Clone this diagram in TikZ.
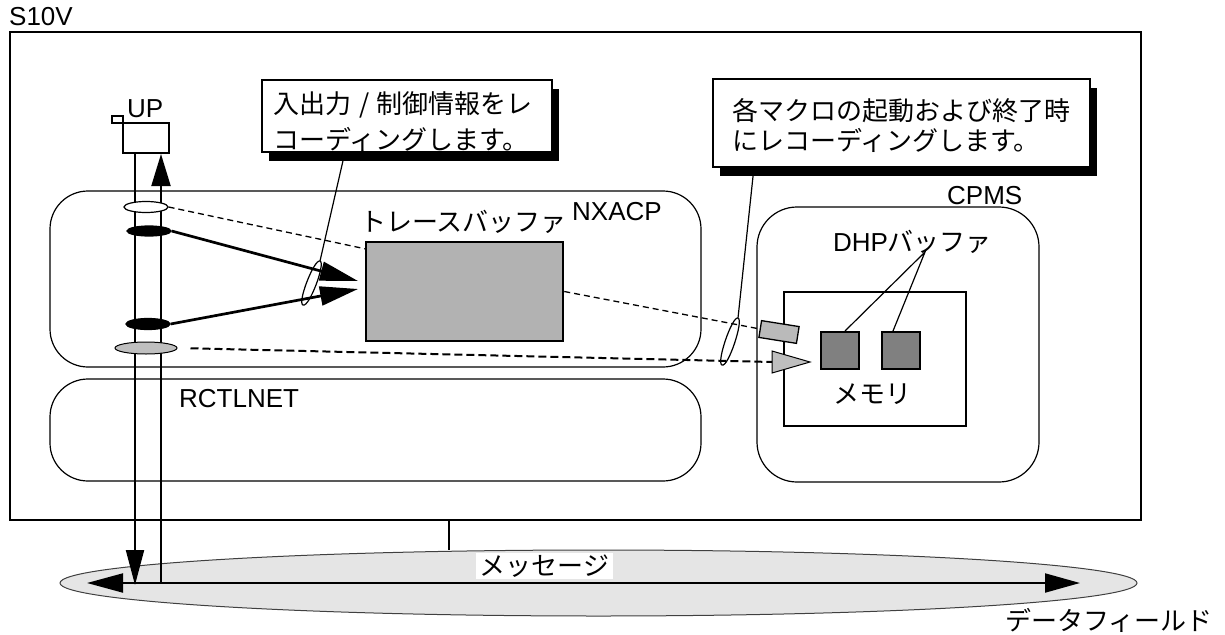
\documentclass[tikz,border=0pt]{standalone}
\usepackage{fontspec}
\setmainfont{Liberation Sans}
\newfontfamily\jp{Noto Sans CJK JP}
\usetikzlibrary{arrows.meta,shadows,calc,shapes.geometric}
\begin{document}
\begin{tikzpicture}[x=1pt,y=-1pt,
  every node/.style={inner sep=0pt, font=\fontsize{26}{30}\selectfont},
  lbl/.style={anchor=base west},
  jlbl/.style={font=\jp\fontsize{26}{30}\selectfont},
  rbox/.style={draw, line width=1.2pt, rounded corners=38pt},
  callout/.style={draw, line width=2.5pt, fill=white,
    drop shadow={shadow xshift=7pt, shadow yshift=-9pt, opacity=1, fill=black}},
  thindash/.style={line width=1.3pt, dash pattern=on 6pt off 4pt},
  thickdash/.style={line width=2pt, dash pattern=on 8pt off 4pt},
  pointer/.style={line width=1.2pt},
  chan/.style={line width=2pt},
  ring/.style={ellipse, draw, line width=1.2pt},
]
\useasboundingbox (0,0) rectangle (1225,634);

% outer S10V frame
\node[draw, line width=2.2pt, minimum width=1131pt, minimum height=488pt] (s10v) at (575.5,276) {};
\node[lbl] (s10vl) at (9,26) {S10V};

% data field
\node[ellipse, draw=black!75, line width=1pt, fill=black!10,
      minimum width=1077pt, minimum height=66pt] (df) at (598.5,583) {};
\coordinate (stub) at (449,520);
\draw[line width=1.5pt] (stub) -- (stub |- df.north);

% NXACP / RCTLNET
\node[rbox, minimum width=651pt, minimum height=176pt] (nxacp) at (375.5,279) {};
\node[rbox, minimum width=651pt, minimum height=102pt] (rctl) at (375.5,430) {};
\node[lbl] (nxl) at (572,220) {NXACP};
\node[lbl] (rcl) at (179,407) {RCTLNET};

% CPMS
\node[rbox, rounded corners=40pt, minimum width=282pt, minimum height=275pt] (cpms) at (898,344.5) {};
\node[lbl] (cpl) at (947,204) {CPMS};

% memory
\node[draw, line width=2pt, minimum width=182pt, minimum height=134pt] (mem) at (875,359) {};
\node[jlbl] (meml) at (872,394) {メモリ};
\node[draw, line width=2pt, fill=black!50, minimum width=38pt, minimum height=37pt] (sq1) at (840,350.5) {};
\node[draw, line width=2pt, fill=black!50, minimum width=38pt, minimum height=37pt] (sq2) at (901,350.5) {};
\node (dhpl) at (912.5,242) {DHP{\jp バッファ}};
\coordinate (dhpp) at (925,252);
\draw[pointer] ($(sq1.north)+(5,0)$) -- (dhpp) -- ($(sq2.north)+(-8,0)$);

% tilted record & triangle
\node[draw, line width=1.3pt, fill=black!27, minimum width=38pt, minimum height=17pt, rotate=-9] (trec) at (779,332) {};
\draw[line width=1pt, fill=black!25] (772,351) -- (810,362) -- (772,373) -- cycle;
\coordinate (triw) at (772,362);

% trace buffer
\node[draw, line width=2.5pt, fill=black!30, minimum width=197pt, minimum height=99pt] (tbuf) at (464.5,291.5) {};
\node[jlbl] (tbl) at (463.5,222) {トレースバッファ};

% UP
\node[draw, line width=2pt, fill=white, minimum width=46pt, minimum height=30pt] (up) at (146,138) {};
\node[draw, line width=1.5pt, minimum width=11pt, minimum height=7pt] (upsm) at (117.5,119.5) {};
\node[lbl] (upl) at (127,117) {UP};

\coordinate (dn) at (135,585);
\coordinate (upb) at (161,583);
\draw[chan, -{Triangle[length=35pt,width=18pt]}] (up.south -| dn) -- (dn);
\draw[chan, -{Triangle[length=32pt,width=19pt]}] (upb) -- (upb |- up.south);

% message arrow
\coordinate (msgl) at (87,583);
\coordinate (msgr) at (1080,583);
\draw[chan, {Triangle[length=36pt,width=19pt]}-{Triangle[length=35pt,width=19pt]}] (msgl) -- (msgr);
\node[jlbl, fill=white, inner xsep=3.5pt, inner ysep=2pt] (msg) at (544.5,566) {メッセージ};
\node[jlbl] (dfl) at (1109,620) {データフィールド};

% rings on channel
\node[ring, fill=white, minimum width=44pt, minimum height=11pt] (e1) at (146,207) {};
\node[ring, fill=black, minimum width=44pt, minimum height=10pt] (e2) at (149,231) {};
\node[ring, fill=black, minimum width=44pt, minimum height=11pt] (e3) at (148,324) {};
\node[ring, line width=1pt, fill=black!25, minimum width=62pt, minimum height=12pt] (e4) at (146,348) {};

% recording arrows
\coordinate (a1t) at (358,281);
\coordinate (a2t) at (358,289);
\draw[line width=2.7pt, -{Triangle[length=38pt,width=19pt]}] (e2.east) -- (a1t);
\draw[line width=2.7pt, -{Triangle[length=38pt,width=19pt]}] (e3.east) -- (a2t);

% dashed links
\coordinate (tbin) at (366,249);
\draw[thindash] (e1.east) -- (tbin);
\draw[thindash] (tbuf.east) -- (trec.west);
\draw[thickdash, shorten <=13pt] (e4.east) -- (triw);

% callouts
\node[callout, minimum width=290pt, minimum height=72pt] (c1) at (407,116) {};
\node[jlbl, anchor=base west] (c1a) at (273,113.5) {入出力\hspace{0.3em}/\hspace{0.3em}制御情報をレ};
\node[jlbl, anchor=base west] (c1b) at (273,149) {コーディングします。};
\node[callout, minimum width=377pt, minimum height=88pt] (c2) at (901.5,123) {};
\node[jlbl, anchor=base west] (c2a) at (732,120) {各マクロの起動および終了時};
\node[jlbl, anchor=base west] (c2b) at (732,150) {にレコーディングします。};

% pointers with loops
\coordinate (c1s) at (345,152);
\coordinate (l1t) at (320,261);
\coordinate (l1b) at (303,305);
\draw[pointer] (c1s) -- (l1t) .. controls ($(l1t)+(6,2)$) and ($(l1b)+(6,3)$) .. (l1b)
  .. controls ($(l1b)+(-6,-2)$) and ($(l1t)+(-6,-2)$) .. (l1t);
\coordinate (c2s) at (754,167);
\coordinate (l2t) at (738,318);
\coordinate (l2b) at (722,365);
\draw[pointer] (c2s) -- (l2t) .. controls ($(l2t)+(6,2)$) and ($(l2b)+(6,3)$) .. (l2b)
  .. controls ($(l2b)+(-6,-2)$) and ($(l2t)+(-6,-2)$) .. (l2t);
\end{tikzpicture}
\end{document}
